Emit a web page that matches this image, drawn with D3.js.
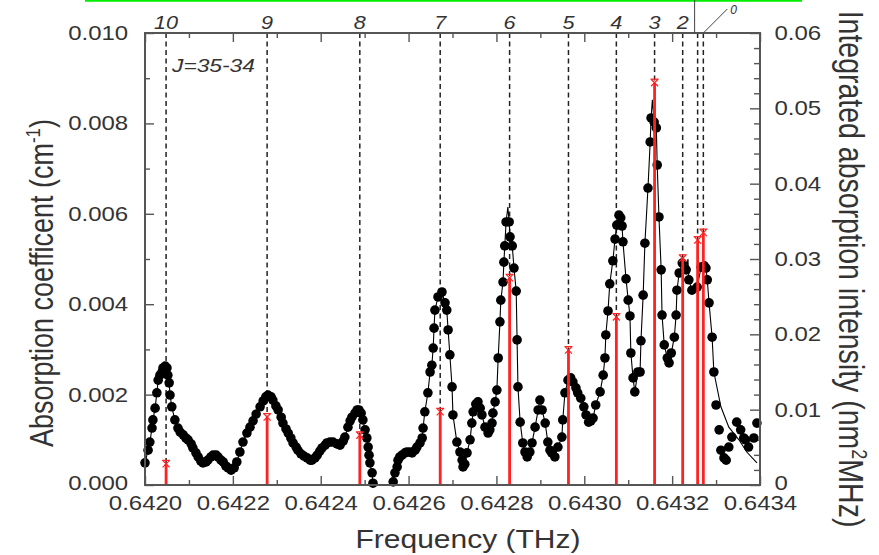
<!DOCTYPE html>
<html><head><meta charset="utf-8">
<script src="https://cdn.jsdelivr.net/npm/d3@7"></script>
<style>
body{margin:0;background:#fff;}
svg{display:block;font-family:"Liberation Sans",Arial,sans-serif;}
</style></head><body>
<svg id="chart" width="879" height="555"></svg>
<script>
// ---------- DATA ----------
const dataFreq=[0.642000,0.642007,0.642011,0.642016,0.642018,0.642023,0.642027,0.642030,0.642034,0.642039,0.642041,0.642046,0.642050,0.642052,0.642055,0.642057,0.642061,0.642068,0.642075,0.642080,0.642087,0.642093,0.642098,0.642105,0.642109,0.642116,0.642121,0.642127,0.642132,0.642139,0.642143,0.642150,0.642155,0.642162,0.642166,0.642173,0.642178,0.642184,0.642189,0.642196,0.642203,0.642209,0.642216,0.642223,0.642232,0.642239,0.642246,0.642253,0.642262,0.642269,0.642275,0.642280,0.642287,0.642291,0.642298,0.642303,0.642310,0.642314,0.642321,0.642326,0.642332,0.642337,0.642344,0.642348,0.642355,0.642362,0.642369,0.642376,0.642380,0.642387,0.642392,0.642398,0.642403,0.642410,0.642414,0.642421,0.642428,0.642437,0.642444,0.642451,0.642455,0.642462,0.642467,0.642471,0.642478,0.642483,0.642487,0.642492,0.642496,0.642501,0.642505,0.642508,0.642510,0.642512,0.642517,0.642519,
0.642565,0.642569,0.642574,0.642576,0.642580,0.642585,0.642592,0.642596,0.642603,0.642608,0.642615,0.642619,0.642626,0.642631,0.642633,0.642637,0.642644,0.642649,0.642653,0.642656,0.642658,0.642660,0.642667,0.642676,0.642683,0.642687,0.642690,0.642694,0.642699,0.642701,0.642710,0.642717,0.642722,0.642724,0.642728,0.642733,0.642740,0.642744,0.642747,0.642753,0.642758,0.642763,0.642767,0.642774,0.642781,0.642785,0.642790,0.642792,0.642797,0.642801,0.642804,0.642808,0.642810,0.642815,0.642817,0.642819,0.642822,0.642829,0.642831,0.642836,0.642840,0.642845,0.642847,0.642849,0.642854,0.642860,0.642865,0.642870,0.642876,0.642881,0.642888,0.642895,0.642899,0.642904,0.642911,0.642917,0.642922,0.642926,0.642933,0.642940,0.642949,0.642951,0.642956,0.642963,0.642969,0.642974,0.642981,0.642985,0.642992,0.642999,0.643004,0.643010,0.643015,0.643020,0.643026,0.643036,0.643043,0.643047,0.643049,0.643054,0.643058,0.643065,0.643070,0.643074,0.643079,0.643083,0.643086,0.643088,0.643095,0.643100,0.643104,0.643106,0.643111,0.643115,0.643122,0.643127,0.643129,0.643134,0.643138,0.643145,0.643150,0.643152,0.643159,0.643164,0.643166,0.643170,0.643175,0.643177,0.643182,0.643189,0.643193,0.643198,0.643205,0.643209,0.643211,0.643216,0.643223,0.643232,0.643238,0.643245,0.643257,0.643266,0.643273,0.643277,0.643280,0.643284,0.643291,0.643295,0.643300,0.643307,0.643311,0.643318,0.643323,0.643329,0.643336,0.643347,0.643356,0.643363,0.643367,0.643374,0.643386,0.643393];
const dataAbs=[0.00049,0.00077,0.00095,0.00126,0.00144,0.00170,0.00204,0.00232,0.00243,0.00250,0.00259,0.00263,0.00259,0.00243,0.00226,0.00199,0.00173,0.00144,0.00126,0.00117,0.00111,0.00104,0.00100,0.00091,0.00082,0.00071,0.00062,0.00053,0.00049,0.00051,0.00055,0.00062,0.00066,0.00066,0.00062,0.00055,0.00051,0.00042,0.00038,0.00033,0.00038,0.00051,0.00073,0.00095,0.00115,0.00128,0.00142,0.00157,0.00173,0.00186,0.00195,0.00199,0.00195,0.00188,0.00175,0.00166,0.00150,0.00137,0.00124,0.00115,0.00104,0.00093,0.00084,0.00077,0.00069,0.00064,0.00060,0.00055,0.00055,0.00060,0.00066,0.00075,0.00082,0.00088,0.00093,0.00095,0.00095,0.00091,0.00088,0.00097,0.00106,0.00128,0.00142,0.00150,0.00159,0.00166,0.00166,0.00159,0.00144,0.00122,0.00104,0.00084,0.00066,0.00049,0.00027,0.00004,
0.00007,0.00027,0.00040,0.00055,0.00062,0.00066,0.00071,0.00073,0.00073,0.00071,0.00077,0.00084,0.00093,0.00104,0.00126,0.00162,0.00204,0.00250,0.00265,0.00303,0.00347,0.00387,0.00416,0.00427,0.00403,0.00387,0.00343,0.00288,0.00217,0.00155,0.00095,0.00073,0.00055,0.00040,0.00046,0.00071,0.00100,0.00137,0.00162,0.00179,0.00184,0.00170,0.00155,0.00128,0.00115,0.00122,0.00137,0.00159,0.00184,0.00210,0.00281,0.00361,0.00409,0.00449,0.00493,0.00529,0.00582,0.00582,0.00549,0.00529,0.00480,0.00429,0.00321,0.00217,0.00139,0.00093,0.00073,0.00062,0.00073,0.00093,0.00128,0.00166,0.00188,0.00166,0.00137,0.00095,0.00077,0.00071,0.00062,0.00084,0.00106,0.00144,0.00204,0.00232,0.00237,0.00228,0.00215,0.00204,0.00192,0.00173,0.00155,0.00139,0.00142,0.00148,0.00177,0.00206,0.00243,0.00281,0.00332,0.00385,0.00445,0.00496,0.00544,0.00575,0.00597,0.00591,0.00573,0.00538,0.00456,0.00409,0.00374,0.00292,0.00237,0.00206,0.00250,0.00250,0.00319,0.00420,0.00535,0.00657,0.00759,0.00812,0.00803,0.00790,0.00708,0.00593,0.00476,0.00376,0.00310,0.00281,0.00270,0.00292,0.00327,0.00376,0.00431,0.00469,0.00491,0.00476,0.00454,0.00431,0.00438,0.00482,0.00485,0.00480,0.00454,0.00403,0.00327,0.00250,0.00177,0.00122,0.00077,0.00060,0.00055,0.00084,0.00106,0.00139,0.00122,0.00104,0.00100,0.00084,0.00104,0.00137];

// fitted-curve apexes (line rises above the measured dots) and fitted tail
const apexFreq=[0.642826,0.643155,0.643236];
const apexAbs=[0.00615,0.00852,0.00500];
const tailFreq=[0.643295,0.643311,0.643329,0.643352,0.643370,0.643393];
const tailAbs=[0.00250,0.00173,0.00128,0.00100,0.00073,0.00049];

// calculated transitions (stick spectrum, right axis)
const stickFreq=[0.642048,0.642278,0.642489,0.642672,0.642830,0.642964,0.643073,0.643160,0.643224,0.643258,0.643271];
const stickInt=[0.0028,0.0090,0.0066,0.0097,0.0275,0.0179,0.0223,0.0534,0.0301,0.0325,0.0335];
const kLabels=["10","9","8","7","6","5","4","3","2"];

const xTickValues=[0.6420,0.6422,0.6424,0.6426,0.6428,0.6430,0.6432,0.6434];
const yLeftTicks=[0,0.002,0.004,0.006,0.008,0.010];
const yRightTicks=[0,0.01,0.02,0.03,0.04,0.05,0.06];

// ---------- LAYOUT ----------
const m={left:145,right:760,top:33,bottom:485};
const SX=1.2;  // horizontal stretch of the original raster text
const FONT='"Liberation Sans",Arial,sans-serif';
const x=d3.scaleLinear().domain([0.6420,0.6434]).range([m.left,m.right]);
const yL=d3.scaleLinear().domain([0,0.010]).range([m.bottom,m.top]);
const yR=d3.scaleLinear().domain([0,0.06]).range([m.bottom,m.top]);
const svg=d3.select("#chart");

// green line artifact at top
svg.append("line").attr("x1",85).attr("x2",802).attr("y1",0.8).attr("y2",0.8)
  .attr("stroke","#00ee00").attr("stroke-width",1.8);

// minor tick values derived from the major tick arrays
const mids=a=>a.slice(1).map((v,i)=>(v+a[i])/2);
const xMinor=mids(xTickValues);
const yLMinor=mids(yLeftTicks);
const yRMinor=[];
yRightTicks.slice(1).forEach((v,i)=>{const a=yRightTicks[i];for(let k=1;k<5;k++)yRMinor.push(a+(v-a)*k/5);});

function styleAxis(g,fs){
  g.select(".domain").remove();
  g.selectAll("line").attr("stroke","#555").attr("stroke-width",1.4);
  g.selectAll("text").attr("fill","#333").attr("font-size",fs).attr("font-family",FONT)
    .attr("transform",`scale(${SX},1)`);
}
// bottom
svg.append("g").attr("transform",`translate(0,${m.bottom})`)
  .call(d3.axisBottom(x).tickValues(xTickValues).tickSize(-9).tickPadding(11).tickFormat(d3.format(".4f")))
  .call(g=>styleAxis(g,20));
svg.append("g").attr("transform",`translate(0,${m.bottom})`)
  .call(d3.axisBottom(x).tickValues(xMinor).tickSize(-5).tickFormat(""))
  .call(g=>styleAxis(g,20));
// top
svg.append("g").attr("transform",`translate(0,${m.top})`)
  .call(d3.axisTop(x).tickValues(xTickValues).tickSize(-9).tickFormat(""))
  .call(g=>styleAxis(g,20));
svg.append("g").attr("transform",`translate(0,${m.top})`)
  .call(d3.axisTop(x).tickValues(xMinor).tickSize(-5).tickFormat(""))
  .call(g=>styleAxis(g,20));
// left
svg.append("g").attr("transform",`translate(${m.left},0)`)
  .call(d3.axisLeft(yL).tickValues(yLeftTicks).tickSize(-9).tickPadding(14).tickFormat(d3.format(".3f")))
  .call(g=>styleAxis(g,20));
svg.append("g").attr("transform",`translate(${m.left},0)`)
  .call(d3.axisLeft(yL).tickValues(yLMinor).tickSize(-5).tickFormat(""))
  .call(g=>styleAxis(g,20));
// right
svg.append("g").attr("transform",`translate(${m.right},0)`)
  .call(d3.axisRight(yR).tickValues(yRightTicks).tickSize(-10).tickPadding(12).tickFormat(d=>d===0?"0":d3.format(".2f")(d)))
  .call(g=>styleAxis(g,20));
svg.append("g").attr("transform",`translate(${m.right},0)`)
  .call(d3.axisRight(yR).tickValues(yRMinor).tickSize(-6).tickFormat(""))
  .call(g=>styleAxis(g,20));
// lift the right "0" and the left "0.000" slightly so they clear the x labels
svg.selectAll("g.tick text").filter(function(d){return d===0 && this.getAttribute("x")!==null && +this.getAttribute("x")!==0;})
  .attr("dy","0.2em");

// dashed assignment lines
const sticks=stickFreq.map((f,i)=>({f,v:stickInt[i]}));
svg.append("g").selectAll("line").data(sticks).join("line")
  .attr("x1",d=>x(d.f)).attr("x2",d=>x(d.f))
  .attr("y1",m.top).attr("y2",d=>yR(d.v))
  .attr("stroke","#222").attr("stroke-width",1.5).attr("stroke-dasharray","5,3.5");

// fitted / connecting line
const pts=dataFreq.map((f,i)=>({f,a:dataAbs[i]}));
let linePts=pts.filter(d=>d.f<tailFreq[0])
  .concat(apexFreq.map((f,i)=>({f,a:apexAbs[i]})))
  .concat(tailFreq.map((f,i)=>({f,a:tailAbs[i]})));
linePts.sort((a,b)=>a.f-b.f);
const segs=[[]];
linePts.forEach((d,i)=>{ if(i>0 && d.f-linePts[i-1].f>0.00003) segs.push([]); segs[segs.length-1].push(d); });
const line=d3.line().x(d=>x(d.f)).y(d=>yL(d.a));
svg.append("g").selectAll("path").data(segs).join("path")
  .attr("d",line).attr("fill","none").attr("stroke","#000").attr("stroke-width",1.1);

// data dots
svg.append("g").selectAll("circle").data(pts).join("circle")
  .attr("cx",d=>x(d.f)).attr("cy",d=>yL(d.a)).attr("r",4.8).attr("fill","#000");

// red sticks
svg.append("g").selectAll("line").data(sticks).join("line")
  .attr("x1",d=>x(d.f)).attr("x2",d=>x(d.f))
  .attr("y1",yR(0)).attr("y2",d=>yR(d.v))
  .attr("stroke","#ff2222").attr("stroke-width",2.8);
svg.append("g").selectAll("path").data(sticks).join("path")
  .attr("transform",d=>`translate(${x(d.f)},${yR(d.v)})`)
  .attr("d","M-3.5,-3.5L3.5,3.5M-3.5,3.5L3.5,-3.5M-4,-3.5H4")
  .attr("fill","none").attr("stroke","#ff2222").attr("stroke-width",1.2);

// frame
svg.append("rect").attr("x",m.left).attr("y",m.top).attr("width",m.right-m.left).attr("height",m.bottom-m.top)
  .attr("fill","none").attr("stroke","#555").attr("stroke-width",2);

// J labels on top
svg.append("g").selectAll("text").data(kLabels).join("text")
  .attr("transform",(d,i)=>`translate(${x(stickFreq[i])},29) scale(${SX},1)`)
  .attr("text-anchor","middle").attr("font-size",18).attr("font-style","italic")
  .attr("fill","#333").attr("font-family",FONT).text(d=>d);
// leader lines for the crowded lowest labels
svg.append("line").attr("x1",x(stickFreq[9])-3).attr("x2",x(stickFreq[9])-3).attr("y1",0).attr("y2",m.top)
  .attr("stroke","#444").attr("stroke-width",1);
svg.append("line").attr("x1",x(stickFreq[10])).attr("x2",x(stickFreq[10])+24).attr("y1",m.top).attr("y2",9)
  .attr("stroke","#444").attr("stroke-width",1);
svg.append("text").attr("x",x(stickFreq[10])+27).attr("y",14)
  .attr("font-size",12).attr("font-style","italic").attr("fill","#333").attr("font-family",FONT).text("0");

// J=35-34 annotation
svg.append("text").attr("transform",`translate(${m.left+27},${m.top+39}) scale(${SX},1)`)
  .attr("font-size",19).attr("font-style","italic").attr("fill","#333").attr("font-family",FONT).text("J=35-34");

// axis titles
svg.append("text").attr("transform",`translate(468,548) scale(${SX},1)`)
  .attr("text-anchor","middle").attr("font-size",25).attr("fill","#333").attr("font-family",FONT)
  .text("Frequency (THz)");
const lt=svg.append("text").attr("transform",`translate(53,283) scale(${SX},1) rotate(-90)`)
  .attr("text-anchor","middle").attr("font-size",27).attr("fill","#333").attr("font-family",FONT);
lt.append("tspan").text("Absorption coefficent (cm");
lt.append("tspan").attr("font-size",17).attr("dy",-11).text("-1");
lt.append("tspan").attr("dy",11).text(")");
const rt=svg.append("text").attr("transform",`translate(839,269) scale(${SX},1) rotate(90)`)
  .attr("text-anchor","middle").attr("font-size",28.5).attr("fill","#333").attr("font-family",FONT);
rt.append("tspan").text("Integrated absorption intensity (nm");
rt.append("tspan").attr("font-size",18).attr("dy",-11).text("2");
rt.append("tspan").attr("dy",11).text("MHz)");
</script>
</body></html>
